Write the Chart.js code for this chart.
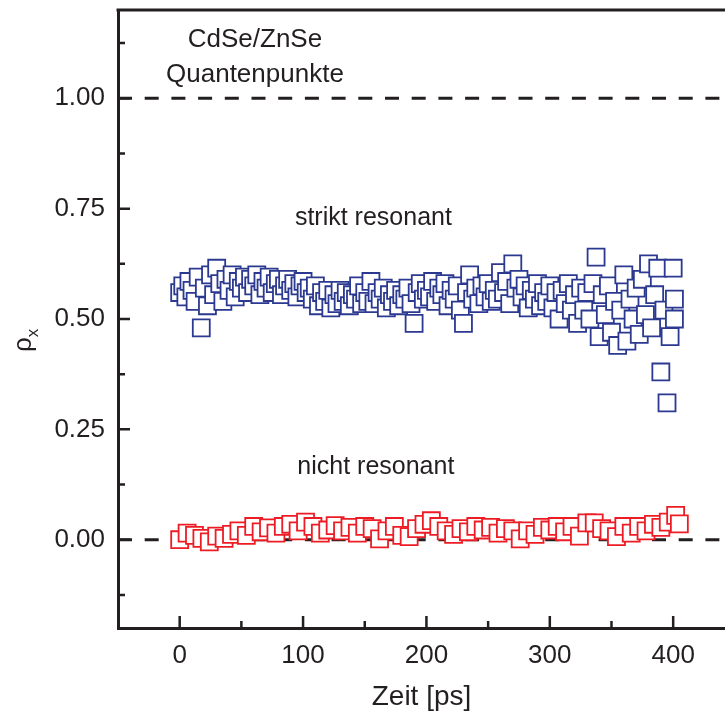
<!DOCTYPE html>
<html>
<head>
<meta charset="utf-8">
<script src="https://cdn.jsdelivr.net/npm/chart.js@4.4.0/dist/chart.umd.min.js"></script>
<style>
  html, body { margin: 0; padding: 0; background: #fff; overflow: hidden; }
  #wrap { width: 725px; height: 716px; }
  canvas { display: block; }
</style>
</head>
<body>
<div id="wrap"><canvas id="grafico" width="725" height="716"></canvas></div>
<script>
// Zeit [ps] - strikt resonant (blau)
const zeitResonant = [
  0, 2.5, 5, 7.5, 10, 12.5, 15, 17.5, 20, 22.5, 25, 27.5, 30, 32.5, 35, 37.5, 40, 42.5, 45, 47.5,
  50, 52.5, 55, 57.5, 60, 62.5, 65, 67.5, 70, 72.5, 75, 77.5, 80, 82.5, 85, 87.5, 90, 92.5, 95, 97.5,
  100, 102.5, 105, 107.5, 110, 112.5, 115, 117.5, 120, 122.5, 125, 127.5, 130, 132.5, 135, 137.5, 140, 142.5, 145, 147.5,
  150, 152.5, 155, 157.5, 160, 162.5, 165, 167.5, 170, 172.5, 175, 177.5, 180, 182.5, 185, 187.5, 190, 192.5, 195, 197.5,
  200, 202.5, 205, 207.5, 210, 212.5, 215, 217.5, 220, 222.5, 225, 227.5, 230, 232.5, 235, 237.5, 240, 242.5, 245, 247.5,
  250, 252.5, 255, 257.5, 260, 262.5, 265, 267.5, 270, 272.5, 275, 277.5, 280, 282.5, 285, 287.5, 290, 292.5, 295, 297.5,
  300, 302.5, 305, 307.5, 310, 312.5, 315, 317.5, 320, 322.5, 325, 327.5, 330, 332.5, 335, 337.5, 340, 342.5, 345, 347.5,
  350, 352.5, 355, 357.5, 360, 362.5, 365, 367.5, 370, 372.5, 375, 377.5, 380, 382.5, 385, 387.5, 390, 392.5, 395, 397.5,
  400, 401, 401
];
const rhoResonant = [
  0.56, 0.575, 0.55, 0.585, 0.565, 0.54, 0.595, 0.48, 0.57, 0.53, 0.60, 0.555, 0.615, 0.58, 0.54, 0.59, 0.565, 0.60, 0.55, 0.585,
  0.57, 0.595, 0.56, 0.59, 0.575, 0.60, 0.555, 0.585, 0.57, 0.595, 0.56, 0.58, 0.59, 0.555, 0.575, 0.59, 0.565, 0.58, 0.55, 0.575,
  0.585, 0.56, 0.57, 0.545, 0.575, 0.53, 0.56, 0.54, 0.565, 0.525, 0.555, 0.535, 0.565, 0.54, 0.56, 0.53, 0.555, 0.545, 0.575, 0.535,
  0.56, 0.54, 0.585, 0.535, 0.56, 0.545, 0.57, 0.525, 0.555, 0.54, 0.565, 0.53, 0.555, 0.545, 0.57, 0.535, 0.49, 0.56, 0.58, 0.545,
  0.565, 0.55, 0.585, 0.54, 0.57, 0.555, 0.58, 0.53, 0.565, 0.545, 0.575, 0.52, 0.49, 0.56, 0.60, 0.545, 0.57, 0.535, 0.575, 0.55,
  0.58, 0.54, 0.565, 0.545, 0.605, 0.56, 0.585, 0.535, 0.625, 0.57, 0.59, 0.55, 0.575, 0.525, 0.565, 0.545, 0.58, 0.53, 0.56, 0.54,
  0.575, 0.525, 0.56, 0.50, 0.565, 0.535, 0.58, 0.52, 0.555, 0.49, 0.57, 0.52, 0.56, 0.50, 0.58, 0.64, 0.46, 0.555, 0.51, 0.575,
  0.47, 0.54, 0.44, 0.52, 0.60, 0.45, 0.545, 0.50, 0.57, 0.465, 0.59, 0.51, 0.625, 0.48, 0.555, 0.615, 0.38, 0.52, 0.31, 0.46,
  0.615, 0.545, 0.50
];

// Zeit [ps] - nicht resonant (rot)
const zeitNicht = [
  0, 6, 12, 18, 24, 30, 36, 42, 48, 54, 60, 66, 72, 78, 84, 90, 96, 102, 108, 114,
  120, 126, 132, 138, 144, 150, 156, 162, 168, 174, 180, 186, 192, 198, 204, 210, 216, 222, 228, 234,
  240, 246, 252, 258, 264, 270, 276, 282, 288, 294, 300, 306, 312, 318, 324, 330, 336, 342, 348, 354,
  360, 366, 372, 378, 384, 390, 396, 402, 405
];
const rhoNicht = [
  0.0, 0.015, 0.01, 0.003, -0.005, 0.008, 0.003, 0.012, 0.02, 0.01, 0.03, 0.018, 0.027, 0.015, 0.03, 0.035, 0.02, 0.04, 0.03, 0.015,
  0.022, 0.032, 0.02, 0.028, 0.015, 0.03, 0.025, 0.002, 0.02, 0.03, 0.01, 0.007, 0.025, 0.035, 0.043, 0.03, 0.02, 0.012, 0.025, 0.018,
  0.03, 0.022, 0.028, 0.015, 0.025, 0.02, 0.002, 0.02, 0.012, 0.028, 0.022, 0.03, 0.018, 0.03, 0.008, 0.038, 0.038, 0.025, 0.02, 0.007,
  0.03, 0.015, 0.03, 0.02, 0.035, 0.028, 0.04, 0.055, 0.036
];

// Ticks
const xMayores = [0, 100, 200, 300, 400];
const xMenores = [50, 150, 250, 350];
const yMayores = [0, 0.25, 0.5, 0.75, 1.0];
const yMenores = [-0.125, 0.125, 0.375, 0.625, 0.875, 1.125];
const referencias = [1.0, 0.0];

const tinta = '#231f20';
const fuente = "'Liberation Sans', Arial, sans-serif";

// sin padding extra de las etiquetas, el area queda fija
const sinPadding = s => { s.paddingTop = 0; s.paddingBottom = 0; s.paddingLeft = 0; s.paddingRight = 0; };

const ejes = {
  id: 'ejes',
  afterDraw(chart) {
    const { ctx, chartArea: a, scales: { x, y } } = chart;
    ctx.save();
    ctx.strokeStyle = tinta;
    ctx.lineWidth = 2.5;
    ctx.beginPath();
    xMayores.forEach(v => { const p = x.getPixelForValue(v); ctx.moveTo(p, a.bottom); ctx.lineTo(p, a.bottom - 12); });
    xMenores.forEach(v => { const p = x.getPixelForValue(v); ctx.moveTo(p, a.bottom); ctx.lineTo(p, a.bottom - 7); });
    yMayores.forEach(v => { const p = y.getPixelForValue(v); ctx.moveTo(a.left, p); ctx.lineTo(a.left + 12, p); });
    yMenores.forEach(v => { const p = y.getPixelForValue(v); ctx.moveTo(a.left, p); ctx.lineTo(a.left + 7, p); });
    ctx.stroke();
    // linea superior
    ctx.lineWidth = 3;
    ctx.beginPath();
    ctx.moveTo(a.left - 1.5, a.top);
    ctx.lineTo(a.right, a.top);
    ctx.stroke();

    // textos
    ctx.fillStyle = tinta;
    ctx.textAlign = 'center';
    ctx.textBaseline = 'middle';
    ctx.font = '26px ' + fuente;
    ctx.fillText('CdSe/ZnSe', x.getPixelForValue(61), y.getPixelForValue(1.133));
    ctx.fillText('Quantenpunkte', x.getPixelForValue(61), y.getPixelForValue(1.053));
    ctx.font = '25px ' + fuente;
    ctx.fillText('strikt resonant', x.getPixelForValue(157), y.getPixelForValue(0.729));
    ctx.fillText('nicht resonant', x.getPixelForValue(159), y.getPixelForValue(0.165));

    // titulo eje y: rho_x
    ctx.translate(31, 352);
    ctx.rotate(-Math.PI / 2);
    ctx.textAlign = 'left';
    ctx.textBaseline = 'alphabetic';
    ctx.font = '26px ' + fuente;
    ctx.fillText('ρ', 0, 0);
    const w = ctx.measureText('ρ').width;
    ctx.font = '17px ' + fuente;
    ctx.fillText('x', w, 7);
    ctx.restore();
  }
};

const lineasRef = referencias.map(v => ({
  type: 'line',
  data: [{ x: -50, y: v }, { x: 442, y: v }],
  borderColor: tinta,
  borderWidth: 3,
  borderDash: [14, 12.7],
  pointRadius: 0,
  order: 5
}));

new Chart(document.getElementById('grafico'), {
  type: 'scatter',
  data: {
    datasets: [
      {
        label: 'strikt resonant',
        data: zeitResonant.map((t, i) => ({ x: t, y: rhoResonant[i] })),
        pointStyle: 'rect',
        pointRadius: 12,
        borderColor: '#2b3990',
        backgroundColor: '#ffffff',
        borderWidth: 1.8,
        order: 2
      },
      {
        label: 'nicht resonant',
        data: zeitNicht.map((t, i) => ({ x: t, y: rhoNicht[i] })),
        pointStyle: 'rect',
        pointRadius: 12,
        borderColor: '#ed1c24',
        backgroundColor: '#ffffff',
        borderWidth: 1.8,
        order: 1
      },
      ...lineasRef
    ]
  },
  options: {
    responsive: false,
    animation: false,
    layout: { autoPadding: false, padding: { top: 10, left: 0, right: 0, bottom: 0 } },
    plugins: { legend: { display: false }, tooltip: { enabled: false } },
    scales: {
      x: {
        type: 'linear',
        min: -50,
        max: 442,
        afterBuildTicks: s => { s.ticks = xMayores.map(v => ({ value: v })); },
        afterFit: s => { s.height = 88; sinPadding(s); },
        grid: { display: false, drawTicks: false },
        border: { display: true, color: tinta, width: 3 },
        ticks: { color: tinta, font: { family: fuente, size: 26 }, padding: 12, maxRotation: 0 },
        title: { display: true, text: 'Zeit [ps]', color: tinta, font: { family: fuente, size: 28 }, padding: { top: 0, bottom: 2 } }
      },
      y: {
        type: 'linear',
        min: -0.2,
        max: 1.2,
        afterBuildTicks: s => { s.ticks = yMayores.map(v => ({ value: v })); },
        afterFit: s => { s.width = 118; sinPadding(s); },
        grid: { display: false, drawTicks: false },
        border: { display: true, color: tinta, width: 3 },
        ticks: { color: tinta, font: { family: fuente, size: 26 }, padding: 13, callback: v => v.toFixed(2) }
      }
    }
  },
  plugins: [ejes]
});
</script>
</body>
</html>
